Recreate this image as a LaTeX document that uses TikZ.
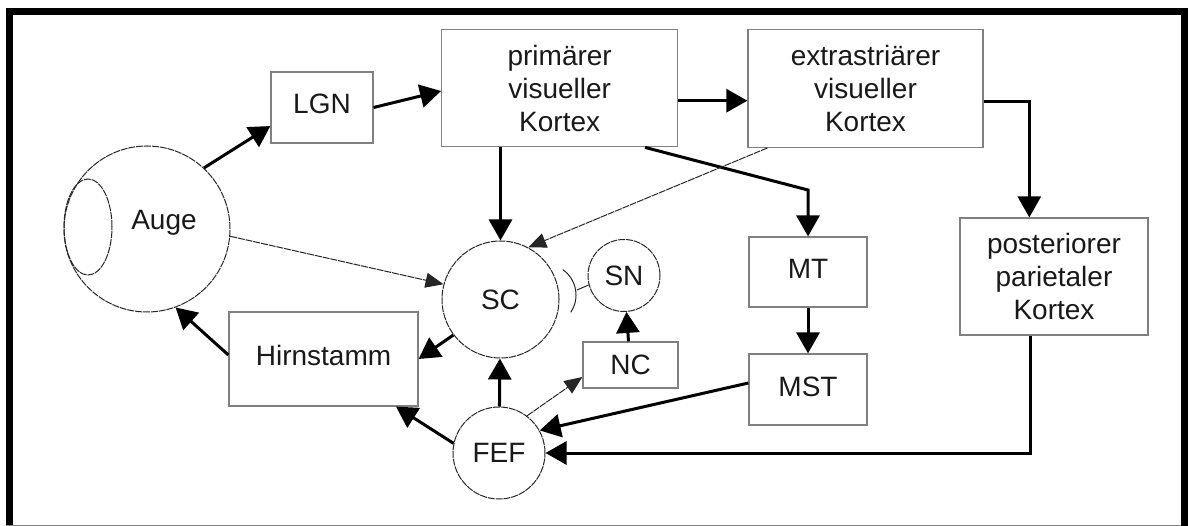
\documentclass[tikz,border=0pt]{standalone}
\usepackage{fontspec}
\setmainfont{Liberation Sans}
\usetikzlibrary{arrows.meta,shapes.geometric}
\begin{document}
\begin{tikzpicture}[x=1pt,y=-1pt,
  txt/.style={font=\fontsize{28}{33}\selectfont, text=black!90, inner sep=0pt},
  box/.style={txt, draw=black!50, line width=1.2pt, align=center},
  onel/.style={text height=20pt, text depth=7pt},
  circ/.style={txt, circle, draw=black!85, line width=1pt, dash pattern=on 7pt off 0.9pt},
  lensst/.style={ellipse, draw=black!85, line width=1pt, dash pattern=on 7pt off 0.9pt, inner sep=0pt},
  thk/.style={line width=3pt, -{Triangle[length=21pt,width=23pt]}},
  thn/.style={line width=1pt, draw=black!85, dash pattern=on 7pt off 0.9pt, -{Triangle[length=18pt,width=15pt]}},
  thnl/.style={line width=1pt, draw=black!85}
]
\useasboundingbox (0,0) rectangle (1188,526);
% frame
\draw[line width=7pt, line join=miter] (9.5,526) -- (9.5,11.5) -- (1184.5,11.5) -- (1184.5,526);
\draw[black!50, line width=1pt] (6,525.5) -- (1181,525.5);

% nodes
\node[circ, minimum size=166pt] (auge) at (147,229) {};
\node[lensst, minimum width=48pt, minimum height=96pt] (lens) at (88,227) {};
\node[txt, anchor=base] (augetxt) at (164,230) {Auge};
\node[box, onel, minimum width=102pt, minimum height=71pt] (lgn) at (322,107.5) {LGN};
\node[box, minimum width=236pt, minimum height=117pt] (v1) at (559.7,88.3) {primärer\\visueller\\Kortex};
\node[box, minimum width=235pt, minimum height=118pt] (v2) at (865.5,88.3) {extrastriärer\\visueller\\Kortex};
\node[box, minimum width=188pt, minimum height=117pt] (ppc) at (1054,276.5) {posteriorer\\parietaler\\Kortex};
\node[box, onel, minimum width=118pt, minimum height=70pt] (mt) at (808,272) {MT};
\node[box, onel, minimum width=118pt, minimum height=71pt] (mst) at (808,389.5) {MST};
\node[box, minimum width=95pt, minimum height=46pt] (nc) at (630.5,365) {NC};
\node[box, onel, minimum width=189pt, minimum height=94pt] (hirn) at (323.5,359) {Hirnstamm};
\node[circ, minimum size=117pt] (sc) at (500.5,299.5) {SC};
\node[circ, minimum size=72pt] (sn) at (624,275.5) {SN};
\node[circ, minimum size=92pt] (fef) at (499,453) {FEF};
\coordinate (inh) at (577,290);

% connectors
\draw[thk] (auge.47) -- ([yshift=-18.5pt]lgn.west);
\draw[thk] (lgn.east) -- ([yshift=-2.7pt]v1.west);
\draw[thk] ([yshift=-12.4pt]v1.east) -- ([yshift=-12.4pt]v1.east -| v2.west);
\draw[thk] ([yshift=-13.4pt]v2.east) -| ([xshift=-24.7pt]ppc.north);
\draw[thk] (v1.south -| sc.north) -- (sc.north);
\draw[thk] ([xshift=85.3pt]v1.south) -- (mt.north |- 0,190) -- (mt.north);
\draw[thn] ([xshift=-98pt]v2.south) -- (sc.62);
\draw[thn] (auge.-5) -- (sc.165);
\draw[thk] (sc.217) -- (hirn.east);
\draw[thk] ([yshift=4pt]hirn.west) -- (auge.-70);
\draw[thk] (fef.168) -- ([xshift=72.5pt]hirn.south);
\draw[thk] (fef) -- (sc);
\draw[thn] (fef.53) -- ([yshift=-12pt]nc.west);
\draw[thk] ([xshift=-2pt]nc.north) -- (sn);
\draw[thk] (mt.south) -- (mst.north);
\draw[thk] ([yshift=6.5pt]mst.west) -- (fef.29);
\draw[thk] ([xshift=-24pt]ppc.south) |- (fef.east);
\draw[thnl] (sn.195) -- (inh);
\draw[thnl] (545,295) ++(55:31pt) arc[start angle=55, end angle=-34, radius=31pt];
\end{tikzpicture}
\end{document}
